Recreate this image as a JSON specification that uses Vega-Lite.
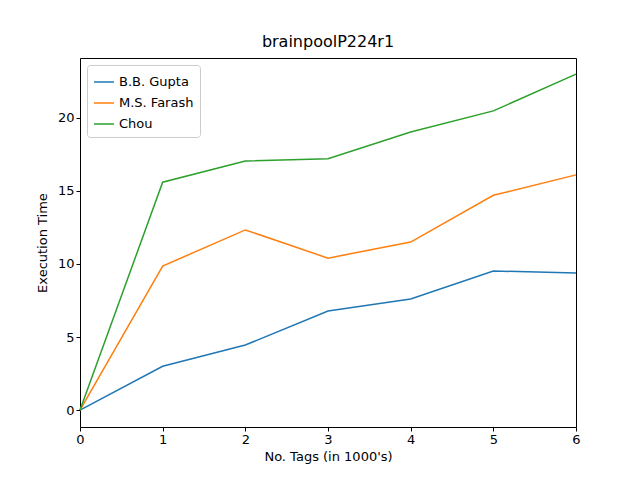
{
  "$schema": "https://vega.github.io/schema/vega-lite/v6.json",
  "width": 496,
  "height": 369,
  "autosize": "none",
  "padding": {"left": 80, "top": 58, "right": 64, "bottom": 53},
  "background": "white",
  "title": {"text": "brainpoolP224r1", "font": "DejaVu Sans", "fontSize": 16, "fontWeight": "normal", "offset": 8},
  "config": {
    "view": {"stroke": "black", "strokeWidth": 1},
    "axis": {"grid": false, "labelFont": "DejaVu Sans", "titleFont": "DejaVu Sans", "labelFontSize": 13, "titleFontSize": 13, "titleFontWeight": "normal", "domain": false, "tickColor": "black", "tickSize": 4, "labelColor": "black", "titleColor": "black", "labelFlush": false}
  },
  "data": {"values": [
    {"x": 0, "y": 0, "s": "B.B. Gupta"}, {"x": 1, "y": 3.0, "s": "B.B. Gupta"}, {"x": 2, "y": 4.45, "s": "B.B. Gupta"}, {"x": 3, "y": 6.78, "s": "B.B. Gupta"}, {"x": 4, "y": 7.6, "s": "B.B. Gupta"}, {"x": 5, "y": 9.52, "s": "B.B. Gupta"}, {"x": 6, "y": 9.38, "s": "B.B. Gupta"},
    {"x": 0, "y": 0, "s": "M.S. Farash"}, {"x": 1, "y": 9.86, "s": "M.S. Farash"}, {"x": 2, "y": 12.33, "s": "M.S. Farash"}, {"x": 3, "y": 10.4, "s": "M.S. Farash"}, {"x": 4, "y": 11.5, "s": "M.S. Farash"}, {"x": 5, "y": 14.7, "s": "M.S. Farash"}, {"x": 6, "y": 16.1, "s": "M.S. Farash"},
    {"x": 0, "y": 0, "s": "Chou"}, {"x": 1, "y": 15.6, "s": "Chou"}, {"x": 2, "y": 17.05, "s": "Chou"}, {"x": 3, "y": 17.2, "s": "Chou"}, {"x": 4, "y": 19.04, "s": "Chou"}, {"x": 5, "y": 20.48, "s": "Chou"}, {"x": 6, "y": 23.0, "s": "Chou"}
  ]},
  "mark": {"type": "line", "strokeWidth": 1.5},
  "encoding": {
    "x": {"field": "x", "type": "quantitative", "title": "No. Tags (in 1000's)", "scale": {"domain": [0, 6], "nice": false}, "axis": {"values": [0, 1, 2, 3, 4, 5, 6], "format": "d", "titlePadding": 4}},
    "y": {"field": "y", "type": "quantitative", "title": "Execution Time", "scale": {"domain": [-1.16, 24.1], "nice": false, "zero": false}, "axis": {"values": [0, 5, 10, 15, 20], "format": "d", "titlePadding": 8}},
    "color": {"field": "s", "type": "nominal", "sort": ["B.B. Gupta", "M.S. Farash", "Chou"], "scale": {"domain": ["B.B. Gupta", "M.S. Farash", "Chou"], "range": ["#1f77b4", "#ff7f0e", "#2ca02c"]},
      "legend": {"title": null, "orient": "none", "legendX": 7, "legendY": 7, "symbolType": "stroke", "symbolSize": 400, "symbolStrokeWidth": 1.5, "labelFont": "DejaVu Sans", "labelFontSize": 13, "rowPadding": 3, "padding": 6, "strokeColor": "#cccccc", "fillColor": "white", "cornerRadius": 3}}
  }
}
